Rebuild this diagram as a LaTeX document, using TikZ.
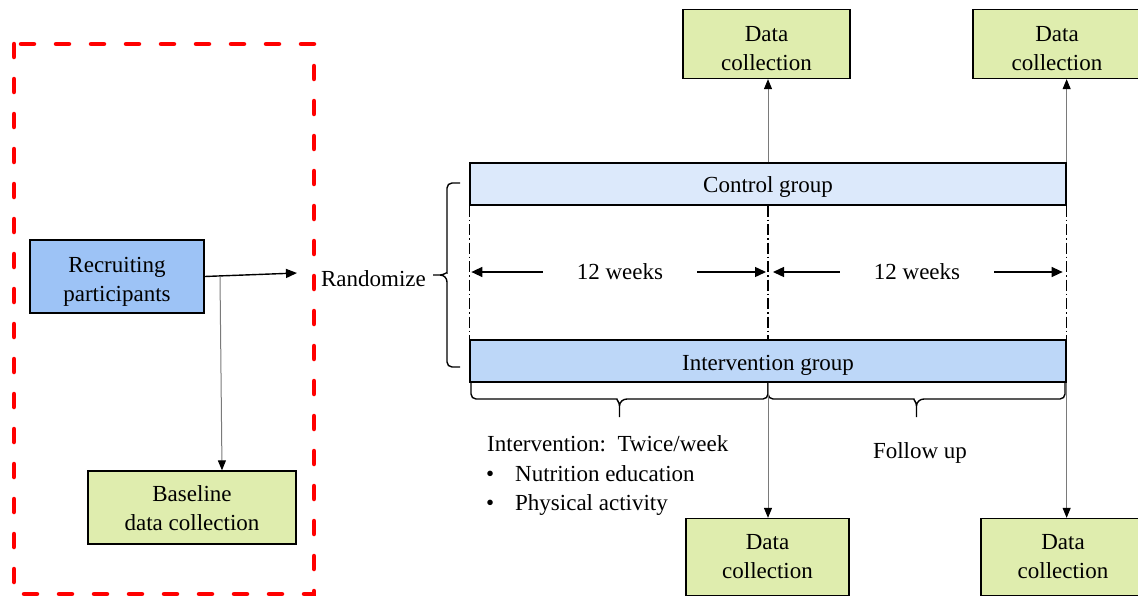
\documentclass[tikz,border=0pt]{standalone}
\usepackage{fontspec}
\setmainfont{Liberation Serif}
\usetikzlibrary{arrows.meta}
\definecolor{recblue}{HTML}{9DC3F6}
\definecolor{ctrlblue}{HTML}{DCE9FB}
\definecolor{intvblue}{HTML}{BDD7F8}
\definecolor{dcgreen}{HTML}{DFEDAE}
\definecolor{linegray}{HTML}{7A7A7A}
\newcommand\txtdrop[1]{\rule{0pt}{#1}}
\tikzset{
  box/.style={draw=black, line width=1.3pt, inner sep=0pt, align=center},
  recbox/.style={box, fill=recblue},
  greenbox/.style={box, fill=dcgreen},
  ctrlbox/.style={box, fill=ctrlblue},
  intvbox/.style={box, fill=intvblue},
  drop/.style={execute at begin node={\rule{0pt}{#1}}},
  thickarrow/.style={draw=black, line width=1.4pt, -{Triangle[length=11pt,width=9pt]}},
  thinarrow/.style={draw=linegray, line width=1pt, -{Triangle[length=10pt,width=8pt,color=black]}},
  weekarrow/.style={draw=black, line width=1.4pt, -{Triangle[length=11pt,width=10pt]}},
  dashdotline/.style={draw=black, line width=1.1pt, dash pattern=on 11pt off 3pt on 1.5pt off 3pt},
  bracestyle/.style={draw=black, line width=1.4pt},
  reddash/.style={draw=red, line width=4.5pt, line cap=round, dash pattern=on 13pt off 22pt},
  label/.style={inner sep=0pt}
}
\begin{document}
\begin{tikzpicture}[x=1pt,y=-1pt,font=\fontsize{23}{29}\selectfont]
\clip (0,0) rectangle (1138,597);
\fill[white] (0,0) rectangle (1138,597);

% red dashed frame
\draw[reddash] (14,44) rectangle (314,594);

% left nodes
\node[recbox, minimum width=174pt, minimum height=73pt] (rec) at (117,276.5) {\txtdrop{25.7pt}Recruiting\\participants};
\node[greenbox, minimum width=208pt, minimum height=73pt] (base) at (192,507.5) {\txtdrop{17.7pt}Baseline\\data collection};
\node[label] (rand) at (373.5,279) {Randomize};

\coordinate (rz) at (297,273);
\draw[thickarrow] (rec.east) -- (rz);
\coordinate (br) at (220,276.5);
\draw[thinarrow] (br) -- (base.north -| 222,0);

% brace to groups
\draw[bracestyle] (460,183) [rounded corners=5pt] -- (447,183) -- (447,268) [sharp corners]
  to[out=-90,in=0] (440,275) -- (433,275)
  (440,275) to[out=0,in=90] (447,282) [rounded corners=5pt] -- (447,367) -- (460,367);

% group bars
\node[ctrlbox, drop=21.7pt, minimum width=596pt, minimum height=42pt] (ctrl) at (768,184) {Control group};
\node[intvbox, drop=23.7pt, minimum width=596pt, minimum height=42pt] (intv) at (768,361) {Intervention group};

% dash-dot separators
\draw[dashdotline] (ctrl.south west) -- (intv.north west);
\draw[dashdotline] (ctrl.south) -- (intv.north);
\draw[dashdotline] (ctrl.south east) -- (intv.north east);

% 12 weeks
\node[label, inner xsep=34pt] (w1) at (620,272) {12 weeks};
\node[label, inner xsep=34pt] (w2) at (917,272) {12 weeks};
\draw[weekarrow, shorten >=2pt] (w1.west) -- (w1.west -| ctrl.south west);
\draw[weekarrow, shorten >=2pt] (w1.east) -- (w1.east -| ctrl.south);
\draw[weekarrow, shorten >=5pt] (w2.west) -- (w2.west -| ctrl.south);
\draw[weekarrow, shorten >=4pt] (w2.east) -- (w2.east -| ctrl.south east);

% bottom braces
\draw[bracestyle] (471,383) [rounded corners=5pt] -- (471,399) -- (612,399) [sharp corners]
  to[out=0,in=90] (619.5,406) -- (619.5,417)
  (619.5,406) to[out=90,in=180] (627,399) [rounded corners=5pt] -- (768,399) -- (768,383);
\draw[bracestyle] (768,383) [rounded corners=5pt] -- (768,399) -- (909,399) [sharp corners]
  to[out=0,in=90] (916.5,406) -- (916.5,417)
  (916.5,406) to[out=90,in=180] (924,399) [rounded corners=5pt] -- (1065,399) -- (1065,383);

% data collection boxes
\node[greenbox, minimum width=167pt, minimum height=69pt] (dc1) at (766.5,44) {\txtdrop{25.2pt}Data\\collection};
\node[greenbox, minimum width=168pt, minimum height=69pt] (dc2) at (1057,44) {\txtdrop{25.2pt}Data\\collection};
\node[greenbox, minimum width=163pt, minimum height=77pt] (dc3) at (767.5,557) {Data\\collection};
\node[greenbox, minimum width=164pt, minimum height=77pt] (dc4) at (1063,557) {Data\\collection};

\draw[thinarrow] (ctrl.north) -- (dc1.south -| ctrl.north);
\draw[thinarrow] (ctrl.north east) -- (dc2.south -| ctrl.north east);
\draw[thinarrow] (intv.south) -- (dc3.north -| intv.south);
\draw[thinarrow] (intv.south east) -- (dc4.north -| intv.south east);

% texts below
\node[label, anchor=west] (itxt) at (487,444) {Intervention:\ \ Twice/week};
\node[label, anchor=west] (nut) at (486,474) {\makebox[29pt][l]{•}Nutrition education};
\node[label, anchor=west] (phy) at (486,505) {\makebox[29pt][l]{•}Physical activity};
\node[label] (fol) at (920,453) {Follow up};
\end{tikzpicture}
\end{document}
